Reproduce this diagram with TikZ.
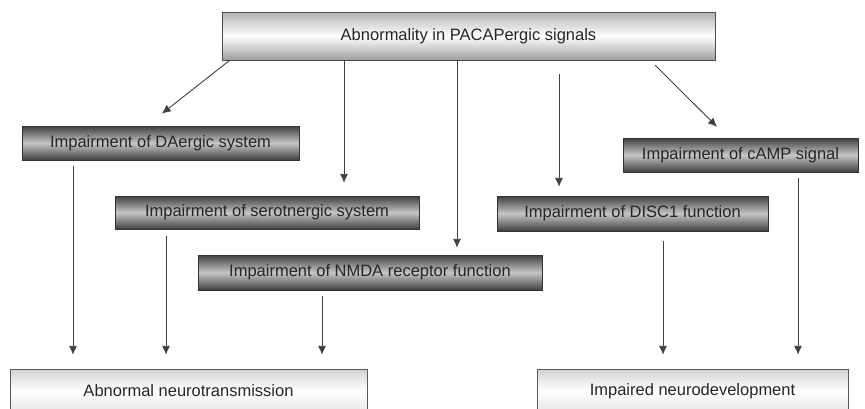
\documentclass[tikz,border=0pt]{standalone}
\usepackage{fontspec}
\setmainfont{Liberation Sans}
\usetikzlibrary{arrows.meta}

\begin{document}
\begin{tikzpicture}[x=1pt,y=-1pt,>={Latex[length=9pt,width=8pt]},
  every node/.style={font=\fontsize{16.5}{19}\selectfont, text=black!85, inner sep=0pt},
  topbox/.style={draw=gray!60!black, top color=gray!60, bottom color=gray!75, middle color=white},
  darkbox/.style={draw=black!80, top color=black!75, bottom color=black!75, middle color=gray!45},
  endbox/.style={draw=gray!70!black, top color=gray!35, bottom color=gray!20, middle color=white},
  link/.style={->, draw=black!75, line width=0.9pt}]

  \useasboundingbox (0,0) rectangle (865,408);

%%%%%%%%%%%%%%%%%%%%%%%%%%%%%%%%%%%%%%%%%%
  % Boxes
  \node[topbox, minimum width=493pt, minimum height=48pt] (pacap) at (468.5,36) {Abnormality in PACAPergic signals};

  \node[darkbox, minimum width=277pt, minimum height=34pt] (dae) at (160.5,143) {Impairment of DAergic system};
  \node[darkbox, minimum width=304pt, minimum height=33pt] (sero) at (267,212.5) {Impairment of serotnergic system};
  \node[darkbox, minimum width=344pt, minimum height=35pt] (nmda) at (370,272.5) {Impairment of NMDA receptor function};
  \node[darkbox, minimum width=271pt, minimum height=35pt] (disc) at (632.5,213.5) {Impairment of DISC1 function};
  \node[darkbox, minimum width=235pt, minimum height=34pt] (camp) at (740.5,155) {Impairment of cAMP signal};

  \node[endbox, minimum width=357pt, minimum height=44pt] (neuro) at (188.5,391) {Abnormal neurotransmission};
  \node[endbox, minimum width=311pt, minimum height=44pt] (devel) at (692.5,391) {Impaired neurodevelopment};

%%%%%%%%%%%%%%%%%%%%%%%%%%%%%%%%%%%%%%%%%%
  % Arrows from the top box
  \draw[link, shorten >=19.5pt] ([xshift=8pt]pacap.south west) -- ([xshift=-14pt]dae.north);
  \draw[link, shorten >=13pt] ([xshift=77pt]sero.north |- pacap.south) -- ([xshift=77pt]sero.north);
  \draw[link, shorten >=7pt] ([xshift=87pt]nmda.north |- pacap.south) -- ([xshift=87pt]nmda.north);
  \draw[link, shorten <=14pt, shorten >=9pt] ([xshift=-73.5pt]disc.north |- pacap.south) -- ([xshift=-73.5pt]disc.north);
  \draw[link, shorten <=7pt, shorten >=15.5pt] ([xshift=-65pt]pacap.south east) -- ([xshift=-12.5pt]camp.north);

  % Arrows to the bottom boxes
  \draw[link, shorten <=6pt, shorten >=14pt] ([xshift=-87.5pt]dae.south) -- ([xshift=-87.5pt]dae.south |- neuro.north);
  \draw[link, shorten <=7pt, shorten >=14pt] ([xshift=-101pt]sero.south) -- ([xshift=-101pt]sero.south |- neuro.north);
  \draw[link, shorten <=6pt, shorten >=14pt] ([xshift=-48pt]nmda.south) -- ([xshift=-48pt]nmda.south |- neuro.north);
  \draw[link, shorten <=10pt, shorten >=14pt] ([xshift=30.5pt]disc.south) -- ([xshift=30.5pt]disc.south |- devel.north);
  \draw[link, shorten <=6pt, shorten >=14pt] ([xshift=57.5pt]camp.south) -- ([xshift=57.5pt]camp.south |- devel.north);

\end{tikzpicture}
\end{document}
